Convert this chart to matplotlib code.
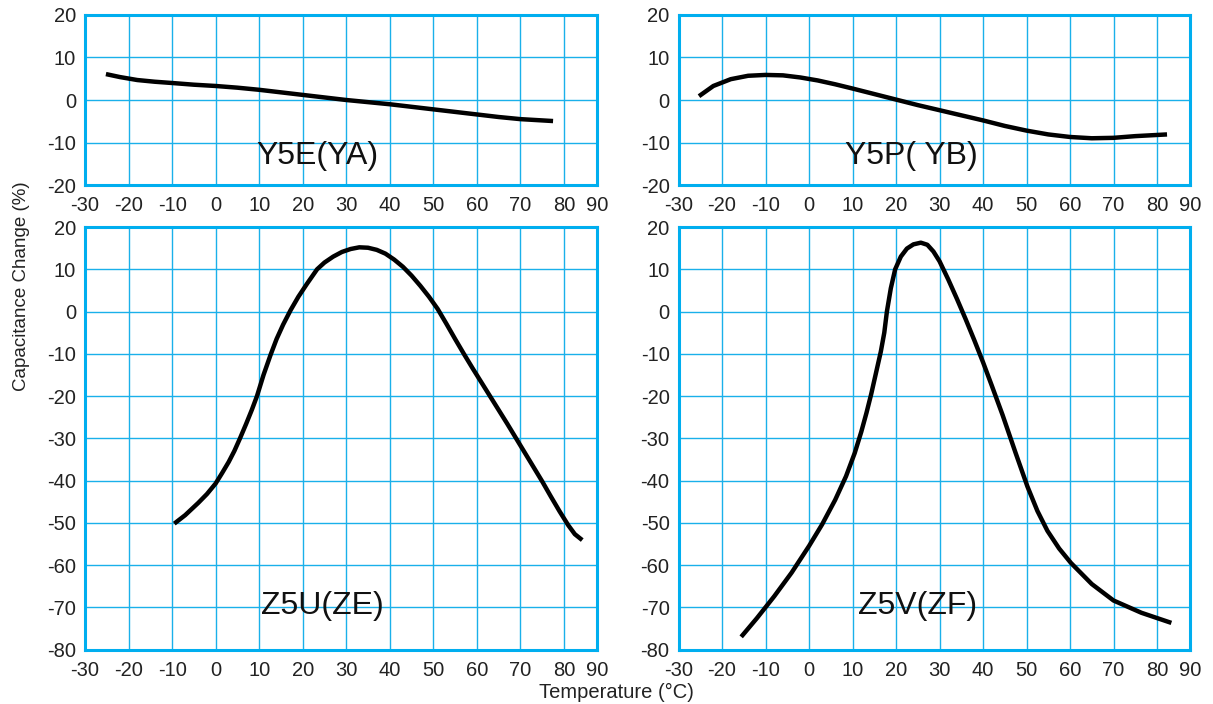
import matplotlib
matplotlib.use("Agg")
import matplotlib.pyplot as plt

plt.rcParams['font.family'] = ['Liberation Sans', 'DejaVu Sans']

# curves (temperature in deg C, capacitance change in %)
y5e_t = [-25.2, -22, -18, -14, -10, -5, 0, 5, 10, 15, 20, 25, 30, 35, 40, 45, 50, 55, 60, 65, 70, 75, 77.5]
y5e_c = [6.1, 5.4, 4.7, 4.3, 4.0, 3.6, 3.3, 2.9, 2.4, 1.8, 1.2, 0.6, 0.0, -0.5, -1.0, -1.6, -2.2, -2.8, -3.4, -4.0, -4.5, -4.8, -4.95]

y5p_t = [-25.3, -22, -18, -14, -10, -6, -2, 2, 6, 10, 15, 20, 25, 30, 35, 40, 45, 50, 55, 60, 65, 70, 75, 82.3]
y5p_c = [0.9, 3.3, 4.9, 5.7, 5.9, 5.8, 5.3, 4.6, 3.7, 2.7, 1.4, 0.1, -1.2, -2.4, -3.6, -4.8, -6.1, -7.2, -8.1, -8.7, -9.0, -8.9, -8.5, -8.1]

z5u_t = [-9.5, -7, -4, -2, 0, 1.5, 3, 4.3, 5.6, 7, 8.3, 9.5, 11, 12.6, 14, 15.5, 17.2, 19, 21, 23.3, 25, 27, 29, 31, 33, 35, 37, 39, 41, 43, 45, 47,
         49, 51, 53, 55, 57, 59, 61, 63, 65, 67, 69, 71, 73, 75, 77, 79, 81, 82.5, 84.2]
z5u_c = [-50.2, -48.2, -45.3, -43.2, -40.7, -38.2, -35.6, -33.0, -30, -26.6, -23.3, -20, -15.0, -10.3, -6.5, -3.1, 0.3, 3.5, 6.6, 10, 11.6, 13.0, 14.1, 14.8, 15.2, 15.1, 14.6, 13.7, 12.3, 10.6, 8.5, 6.1,
         3.5, 0.6, -2.9, -6.5, -10.0, -13.4, -16.7, -20.0, -23.3, -26.6, -30.0, -33.4, -36.8, -40.2, -43.8, -47.3, -50.6, -52.7, -54.1]

z5v_t = [-15.6, -12, -8, -4, 0, 3, 6, 8.5, 10.5, 12, 13.2, 14.3, 15.4, 16.5, 17.3, 17.9, 18.8, 19.8, 21.1, 22.5, 24, 25.7, 27.2, 28.6, 30,
         32, 34, 36, 38, 40, 42, 44.5, 47.5, 50.2, 52.5, 54.8, 57.5, 60.2, 65, 70, 76.4, 83.3]
z5v_c = [-77, -72.6, -67.4, -61.8, -55.5, -50.4, -44.6, -39, -33.5, -28.5, -24, -19.5, -14.5, -9.5, -5, 0, 5.5, 10, 13, 14.9, 15.9, 16.3, 15.8, 14.2, 11.9,
         7.6, 3.0, -1.8, -6.8, -12, -17.5, -24.5, -33.5, -41.4, -47.2, -51.9, -56.1, -59.5, -64.5, -68.4, -71.3, -73.7]

x_ticks = [-30, -20, -10, 0, 10, 20, 30, 40, 50, 60, 70, 80, 90]
top_y_ticks = [-20, -10, 0, 10, 20]
bottom_y_ticks = [-80, -70, -60, -50, -40, -30, -20, -10, 0, 10, 20]

panels = [
    # name, temps, changes, y ticks, label position
    ("Y5E(YA)", y5e_t, y5e_c, top_y_ticks, (23.3, -13.2)),
    ("Y5P( YB)", y5p_t, y5p_c, top_y_ticks, (23.6, -13.2)),
    ("Z5U(ZE)", z5u_t, z5u_c, bottom_y_ticks, (24.5, -69.8)),
    ("Z5V(ZF)", z5v_t, z5v_c, bottom_y_ticks, (25.0, -69.8)),
]

# axes boxes in figure fractions [left, bottom, width, height]
boxes = [
    [0.0701, 0.7372, 0.4221, 0.2415],
    [0.5594, 0.7372, 0.4217, 0.2415],
    [0.0701, 0.0774, 0.4221, 0.6001],
    [0.5594, 0.0774, 0.4217, 0.6001],
]

# the right frame edge of the original sits short of the 90 grid spacing
x_right = 87.6
blue = '#00AEEF'
grid_blue = '#1AB0EA'

fig = plt.figure(figsize=(12.13, 7.04), dpi=100)

for (name, temps, changes, yt, pos), box in zip(panels, boxes):
    ax = fig.add_axes(box)
    ax.plot(temps, changes, color='black', linewidth=3.2,
            solid_capstyle='butt', solid_joinstyle='round', zorder=3)
    ax.set_xlim(-30, x_right)
    ax.set_ylim(yt[0], yt[-1])
    ax.set_xticks(x_ticks[:-1] + [x_right])
    ax.set_xticklabels([str(v) for v in x_ticks])
    ax.set_yticks(yt)
    ax.set_yticklabels([str(v) for v in yt])
    ax.grid(True, color=grid_blue, linewidth=1.0)
    ax.set_axisbelow(True)
    for s in ax.spines.values():
        s.set_color(blue)
        s.set_linewidth(2.2)
    ax.tick_params(axis='both', length=0, labelsize=14.5, labelcolor='#222222')
    ax.tick_params(axis='x', pad=8)
    ax.tick_params(axis='y', pad=6.5)
    ax.text(pos[0], pos[1], name, fontsize=23, ha='center', va='center', color='#111111')

fig.text(0.018, 0.594, "Capacitance Change (%)", rotation=90, fontsize=13.5,
         ha='center', va='center', color='#222222')
fig.text(0.508, 0.016, "Temperature (°C)", fontsize=14.5, ha='center', va='center', color='#222222')

fig.savefig("out.png", dpi=100)
